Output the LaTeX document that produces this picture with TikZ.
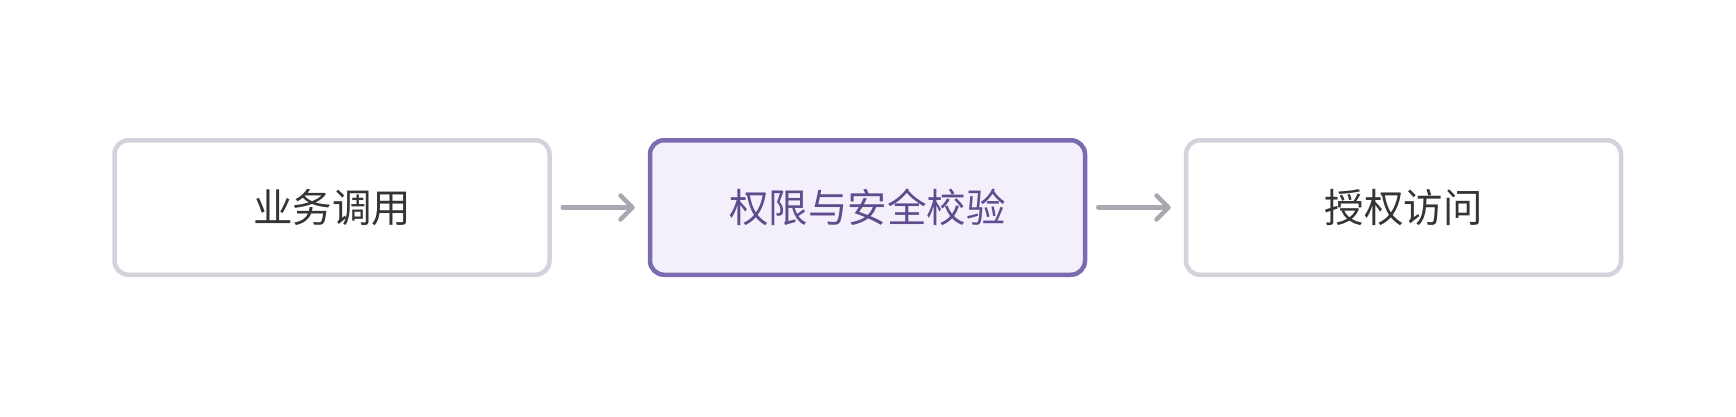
\documentclass[tikz,border=0pt]{standalone}
\usepackage{fontspec}
\newfontfamily\cjk{Noto Sans CJK SC}
\usetikzlibrary{arrows.meta}
\definecolor{grayborder}{HTML}{D3D3DB}
\definecolor{purpleborder}{HTML}{7C6BB0}
\definecolor{purplefill}{HTML}{F3F0FB}
\definecolor{darktext}{HTML}{333338}
\definecolor{purpletext}{HTML}{5F4B8E}
\definecolor{arrowgray}{HTML}{A8A8B0}
\tikzset{
  stepbox/.style={draw=grayborder, fill=white, line width=4.5pt, rounded corners=14pt,
    minimum width=435pt, minimum height=134.5pt, inner sep=0pt,
    font=\cjk\fontsize{39.5pt}{44pt}\selectfont, text=darktext},
  activebox/.style={stepbox, draw=purpleborder, fill=purplefill, text=purpletext},
  flow/.style={draw=arrowgray, line width=4.5pt, line cap=round,
    -{Straight Barb[length=12pt, width=24pt, line width=4.5pt, round]},
    shorten <=11pt, shorten >=13pt}
}
\begin{document}
\begin{tikzpicture}[x=1pt, y=-1pt]
\useasboundingbox (0,0) rectangle (1736,416);
\node[stepbox] (a) at (332,207.5) {业务调用};
\node[activebox] (b) at (867.5,207.5) {权限与安全校验};
\node[stepbox] (c) at (1403.5,207.5) {授权访问};
\draw[flow] (a) -- (b);
\draw[flow] (b) -- (c);
\end{tikzpicture}
\end{document}
